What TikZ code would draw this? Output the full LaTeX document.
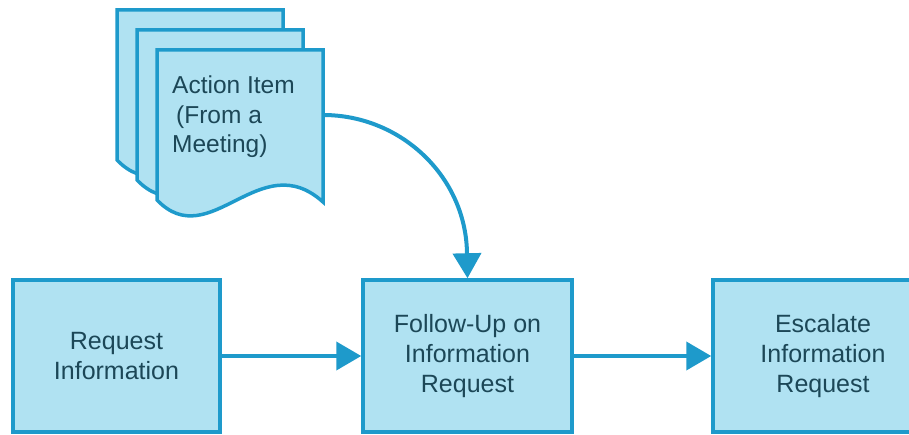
\documentclass[tikz,border=0pt]{standalone}
\usepackage{fontspec}
\setmainfont{Liberation Sans}
\usetikzlibrary{arrows.meta}
\definecolor{boxfill}{HTML}{B0E2F2}
\definecolor{boxline}{HTML}{1E9ACB}
\definecolor{txt}{HTML}{1C4757}
\tikzset{
  procbox/.style={draw=boxline, fill=boxfill, line width=3.5pt, minimum height=152pt,
    align=center, text=txt, font=\fontsize{25}{30}\selectfont, inner sep=0pt},
  docpage/.style={draw=boxline, fill=boxfill, line width=3.5pt, line join=miter},
  flow/.style={draw=boxline, line width=4pt, -{Triangle[length=25pt,width=28pt]}}
}
\begin{document}
\begin{tikzpicture}[x=1pt,y=-1pt]
\useasboundingbox (0,0) rectangle (909,435);
\clip (0,0) rectangle (909,435);
% document stack
\foreach \d in {40,20,0}{
  \begin{scope}[shift={(-\d,-\d)}]
    \path[docpage] (157,50) -- (323,50) -- (323,202)
      .. controls (260,145) and (210,255) .. (157,200) -- cycle;
  \end{scope}
}
\node[anchor=north west, align=left, text=txt, font=\fontsize{24.5}{29.5}\selectfont, inner sep=0pt]
  (doc) at (172,76) {Action Item\\\hspace{4pt}(From a\\Meeting)};
\coordinate (docR) at (323,115);
% process boxes
\node[procbox, minimum width=207pt] (req) at (116.5,356) {Request\\Information};
\node[procbox, minimum width=209pt] (fol) at (467.5,356) {Follow-Up on\\Information\\Request};
\node[procbox, minimum width=220pt] (esc) at (823,356) {Escalate\\Information\\Request};
% connectors
\draw[flow] (docR) .. controls (402,115) and (467,178) .. (467,255) -- (fol.north);
\draw[flow] (req.east) -- (fol.west);
\draw[flow] (fol.east) -- (esc.west);
\end{tikzpicture}
\end{document}
